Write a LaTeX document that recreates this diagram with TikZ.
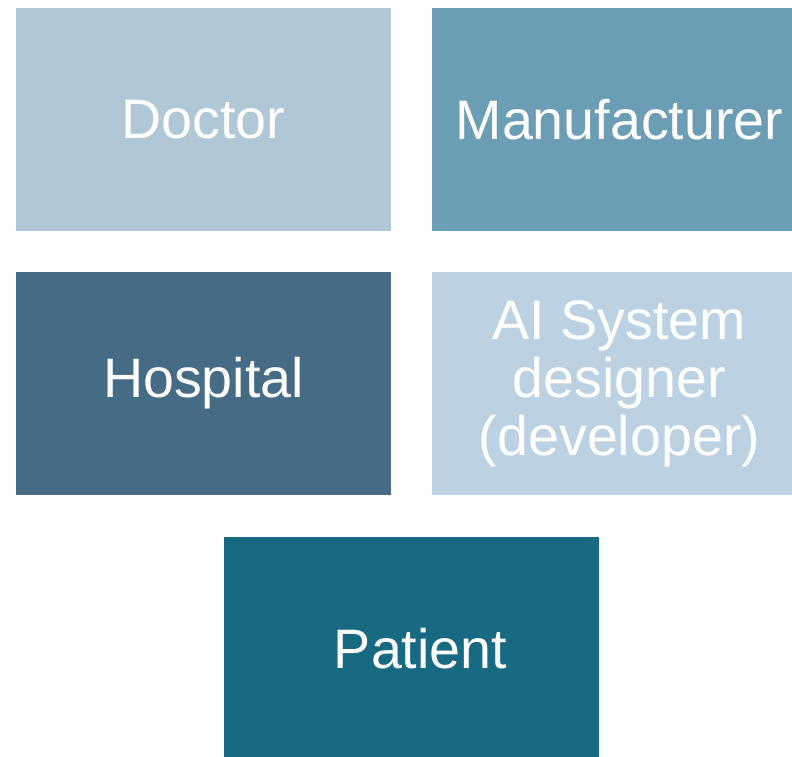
\documentclass[tikz,border=0pt]{standalone}
\usepackage{fontspec}
\setmainfont{Liberation Sans}
\definecolor{cdoctor}{RGB}{176,200,213}
\definecolor{cmanu}{RGB}{107,157,181}
\definecolor{chosp}{RGB}{70,107,132}
\definecolor{cai}{RGB}{188,210,226}
\definecolor{cpat}{RGB}{24,106,131}
\begin{document}
\begin{tikzpicture}[x=1bp,y=-1bp,
  box/.style={rectangle, inner sep=0pt, minimum width=375bp, minimum height=223bp,
    text=white, align=center, font=\fontsize{55.6bp}{58bp}\selectfont}]
\useasboundingbox (0,0) rectangle (792,757);
\clip (0,0) rectangle (792,757);
\node[box, fill=cdoctor] (doctor) at (203.5,119.5) {Doctor};
\node[box, fill=cmanu] (manu) at (619.5,119.5) {Manufacturer};
\node[box, fill=chosp] (hosp) at (203.5,383.5) {Hospital};
\node[box, fill=cai] (ai) at (619.5,383.5) {AI System\\designer\\(developer)};
\node[box, fill=cpat] (pat) at (411.5,648.5) {\hspace*{18bp}Patient};
\end{tikzpicture}
\end{document}
